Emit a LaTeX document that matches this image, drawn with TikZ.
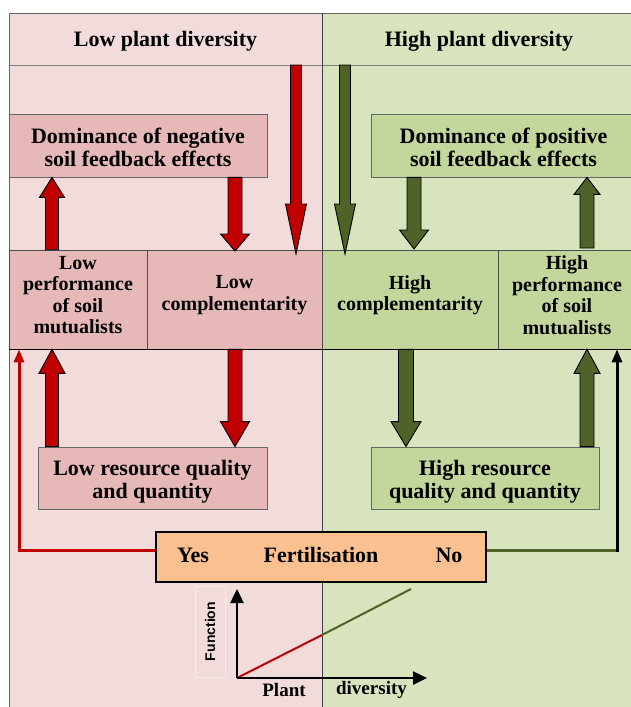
\documentclass[tikz,border=0pt]{standalone}
\usepackage{fontspec}
\setmainfont{Liberation Serif}
\newfontfamily\fnsans{Liberation Sans}
\usetikzlibrary{calc,arrows.meta}
\definecolor{lowbg}{HTML}{F2DCDB}
\definecolor{lowbox}{HTML}{E6B9B8}
\definecolor{highbg}{HTML}{D7E4BD}
\definecolor{highbox}{HTML}{C3D69B}
\definecolor{fertcol}{HTML}{FAC090}
\definecolor{redarr}{HTML}{C00000}
\definecolor{greenarr}{HTML}{4F6228}
\newcommand\blockarrow[6]{%
  \coordinate (ba-h) at ($(#3)!#6!(#2)$);
  \filldraw[fill=#1,draw=black,line width=0.9pt,line join=miter]
    ($(#2)!#4!90:(#3)$) -- ($(ba-h)!#4!90:(#3)$) -- ($(ba-h)!#5!90:(#3)$) -- (#3)
    -- ($(ba-h)!#5!-90:(#3)$) -- ($(ba-h)!#4!-90:(#3)$) -- ($(#2)!#4!-90:(#3)$) -- cycle;}
\tikzset{
  hdr/.style={font=\bfseries\fontsize{22}{23}\selectfont},
  bigbox/.style={draw=black!60, line width=0.8pt, inner sep=0pt},
  boxtext/.style={align=center, inner sep=0pt, font=\bfseries\fontsize{22}{23}\selectfont},
  cell/.style={draw=black!70, line width=0.6pt, inner sep=0pt},
  celltext/.style={align=center, inner sep=0pt, font=\bfseries\fontsize{20}{21.5}\selectfont},
  plain/.style={font=\bfseries\fontsize{22}{23}\selectfont, inner sep=0pt},
  axislabel/.style={font=\bfseries\fontsize{19}{20}\selectfont, inner sep=0pt},
  axis/.style={line width=2.5pt, -{Triangle[length=14pt,width=13pt]}},
}
\begin{document}
\begin{tikzpicture}[x=1pt,y=-1pt]
\useasboundingbox (0,0) rectangle (631,707);
\clip (0,0) rectangle (631,707);
% backgrounds
\fill[lowbg] (9,13) rectangle (322,720);
\fill[highbg] (322,13) rectangle (640,720);
\draw[black!60, line width=1pt] (9,720) -- (9,13) -- (640,13);
\draw[black!50, line width=0.8pt] (9,65) -- (640,65);
\draw[black!75, line width=0.8pt] (322,13) -- (322,720);
% headers
\node[hdr] (lowhdr) at (165.5,41.5) {Low plant diversity};
\node[hdr] (highhdr) at (479,41.5) {High plant diversity};
% feedback boxes
\node[bigbox, fill=lowbox, minimum width=258pt, minimum height=63pt] (neg) at (138,145.5) {};
\node[boxtext] (negtxt) at (138,147) {Dominance of negative\\soil feedback effects};
\node[bigbox, fill=highbox, minimum width=265pt, minimum height=63pt] (pos) at (503.5,145.5) {};
\node[boxtext] (postxt) at (503.5,147) {Dominance of positive\\soil feedback effects};
% middle row
\node[cell, fill=lowbox, minimum width=138pt, minimum height=99pt] (lowperf) at (78,299.5) {};
\node[cell, fill=lowbox, minimum width=175pt, minimum height=99pt] (lowcomp) at (234.5,299.5) {};
\node[cell, fill=highbox, minimum width=176pt, minimum height=99pt] (highcomp) at (410,299.5) {};
\node[cell, fill=highbox, minimum width=138pt, minimum height=99pt] (highperf) at (567,299.5) {};
\node[celltext] (lowperftxt) at (78,295) {Low\\performance\\of soil\\mutualists};
\node[celltext] (lowcomptxt) at (234.5,295) {Low\\complementarity};
\node[celltext] (highcomptxt) at (410,295) {High\\complementarity};
\node[celltext] (highperftxt) at (567,295) {High\\performance\\of soil\\mutualists};
\draw[black!70, line width=0.7pt] (9,250) -- (640,250);
\draw[black, line width=1pt] (9,349) -- (640,349);
% resource boxes
\node[bigbox, fill=lowbox, minimum width=229pt, minimum height=62pt] (lowres) at (152.5,478) {};
\node[boxtext] (lowrestxt) at (152.5,481.5) {Low resource quality\\and quantity};
\node[bigbox, fill=highbox, minimum width=228pt, minimum height=62pt] (highres) at (485,478) {};
\node[boxtext] (highrestxt) at (485,481.5) {High resource\\quality and quantity};
% fertilisation
\node[bigbox, draw=black, line width=1.4pt, fill=fertcol, minimum width=330pt, minimum height=50pt] (fert) at (321,557) {};
\node[plain] (ferttxt) at (321,555) {Fertilisation};
\node[plain] (yes) at (193,555) {Yes};
\node[plain] (no) at (449,555) {No};
\coordinate (yesc) at (19,550);
\coordinate (noc) at (617,550);
\draw[redarr, line width=3pt, line join=miter, -{Triangle[length=13pt,width=10pt]}]
  (fert.west |- yesc) -- (yesc) -- (yesc |- lowperf.south);
\draw[greenarr, line width=3pt] (fert.east |- noc) -- (noc);
\draw[black, line width=3pt, -{Triangle[length=13pt,width=10pt]}]
  ($(noc)+(0,1.5)$) -- (noc |- highperf.south);
% block arrows, top row
\coordinate (a1t) at (52,0 |- lowperf.north);  \coordinate (a1h) at (52,0 |- neg.south);
\coordinate (a2t) at (235,0 |- neg.south);     \coordinate (a2h) at (235,251);
\coordinate (a3t) at (296,65);                 \coordinate (a3h) at (296,254);
\coordinate (a4t) at (345,65);                 \coordinate (a4h) at (345,254);
\coordinate (a5t) at (414,0 |- pos.south);     \coordinate (a5h) at (414,249);
\coordinate (a6t) at (587,248);                \coordinate (a6h) at (587,0 |- pos.south);
\blockarrow{redarr}{a1t}{a1h}{6.5pt}{12.5pt}{20pt}
\blockarrow{redarr}{a2t}{a2h}{7pt}{14.5pt}{17pt}
\blockarrow{redarr}{a3t}{a3h}{5.5pt}{10.5pt}{50pt}
\blockarrow{greenarr}{a4t}{a4h}{5.5pt}{10.5pt}{50pt}
\blockarrow{greenarr}{a5t}{a5h}{7pt}{14.5pt}{19pt}
\blockarrow{greenarr}{a6t}{a6h}{7pt}{13pt}{17pt}
% block arrows, bottom row
\coordinate (b1t) at (52,0 |- lowres.north);   \coordinate (b1h) at (52,0 |- lowperf.south);
\coordinate (b2t) at (235,0 |- lowcomp.south); \coordinate (b2h) at (235,0 |- lowres.north);
\coordinate (b3t) at (406,0 |- highcomp.south);\coordinate (b3h) at (406,0 |- highres.north);
\coordinate (b4t) at (587,0 |- highres.north); \coordinate (b4h) at (587,0 |- highperf.south);
\blockarrow{redarr}{b1t}{b1h}{6.5pt}{13pt}{24pt}
\blockarrow{redarr}{b2t}{b2h}{7pt}{14.5pt}{25pt}
\blockarrow{greenarr}{b3t}{b3h}{7.5pt}{15pt}{25pt}
\blockarrow{greenarr}{b4t}{b4h}{7pt}{13pt}{24pt}
% graph
\node[draw=white!45!lowbg, line width=0.6pt, fill=lowbg, minimum width=91pt, minimum height=30pt,
  rotate=90, inner sep=0pt, font=\fnsans\bfseries\fontsize{14}{14}\selectfont] (funclbl) at (210,631.5) {Function};
\coordinate (O) at (237,678);
\coordinate (ytop) at (237,589);
\coordinate (xend) at (427,678);
\coordinate (mid) at (322,635);
\coordinate (gend) at (411,589);
\draw[redarr, line width=2pt] (O) -- (mid);
\draw[greenarr, line width=2pt] (mid) -- (gend);
\draw[axis] (O) -- (ytop);
\draw[axis] (O) -- (xend);
\node[axislabel] (plantlbl) at (284,690) {Plant};
\node[axislabel] (divlbl) at (371.5,690) {diversity};
\end{tikzpicture}
\end{document}
